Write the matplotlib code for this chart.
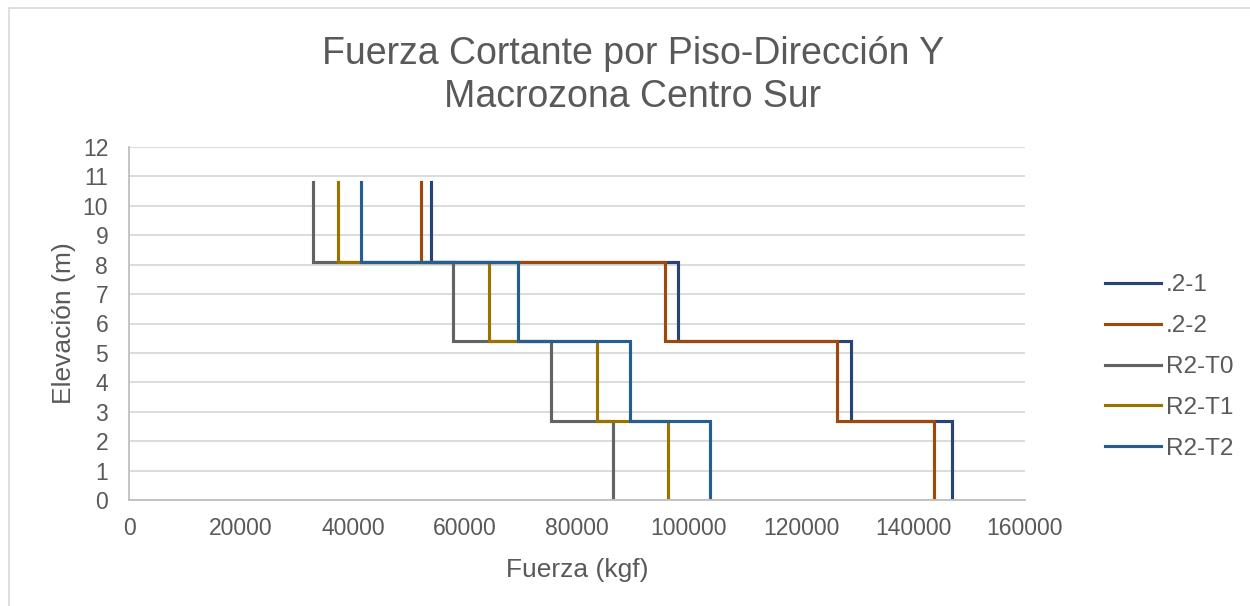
import numpy as np
import matplotlib

matplotlib.use("Agg")
import matplotlib.pyplot as plt
from matplotlib.patches import Rectangle

plt.rcParams["font.family"] = ["Liberation Sans", "DejaVu Sans"]

TEXT = "#595959"

# storey boundaries (m) and storey shear per series, storey 1 -> 4 (kgf)
levels = [0.0, 2.7, 5.4, 8.1, 10.8]
series_names = [".2-1", ".2-2", "R2-T0", "R2-T1", "R2-T2"]
shear_21 = [147000, 129000, 98000, 54000]
shear_22 = [143800, 126500, 95800, 52100]
shear_t0 = [86500, 75300, 57800, 32800]
shear_t1 = [96300, 83500, 64200, 37300]
shear_t2 = [103800, 89400, 69400, 41400]
colors = ["#264478", "#9E480E", "#636363", "#997300", "#255E91"]

x_ticks = [0, 20000, 40000, 60000, 80000, 100000, 120000, 140000, 160000]
y_ticks = list(range(0, 13))


def stair(shear):
    """Vertical run over each storey, horizontal jump at each floor."""
    xs = np.repeat(shear, 2)
    ys = np.array([[levels[i], levels[i + 1]] for i in range(len(shear))]).ravel()
    return xs, ys


fig = plt.figure(figsize=(12.5, 6.06), dpi=100)
ax = fig.add_axes([129 / 1250, 1 - 500 / 606, (1025 - 129) / 1250, (500 - 147) / 606])

for name, shear, c in zip(series_names,
                          [shear_21, shear_22, shear_t0, shear_t1, shear_t2],
                          colors):
    xs, ys = stair(shear)
    ax.plot(xs, ys, color=c, lw=2.25, label=name, solid_joinstyle="miter")

ax.set_xlim(0, 160000)
ax.set_ylim(0, 12)
ax.set_xticks(x_ticks)
ax.set_yticks(y_ticks)
ax.set_xticklabels([str(v) for v in x_ticks])
ax.tick_params(length=0, labelsize=16.5, labelcolor=TEXT)
ax.tick_params(axis="y", pad=15)
ax.tick_params(axis="x", pad=12)
ax.yaxis.grid(True, color="#D9D9D9", lw=1.3)
ax.set_axisbelow(True)
for side in ("top", "right"):
    ax.spines[side].set_visible(False)
for side in ("left", "bottom"):
    ax.spines[side].set_color("#BFBFBF")
    ax.spines[side].set_linewidth(1.3)

ax.set_xlabel("Fuerza (kgf)", fontsize=19, color=TEXT, labelpad=13)
ax.set_ylabel("Elevación (m)", fontsize=19, color=TEXT, labelpad=5)

fig.text(633 / 1250, 1 - 64 / 606, "Fuerza Cortante por Piso-Dirección Y",
         ha="center", va="baseline", fontsize=27, color=TEXT)
fig.text(633 / 1250, 1 - 107 / 606, "Macrozona Centro Sur",
         ha="center", va="baseline", fontsize=27, color=TEXT)

ax.legend(loc="center left", bbox_to_anchor=(1105 / 1250, 1 - 367 / 606),
          bbox_transform=fig.transFigure, frameon=False, fontsize=17.5,
          labelcolor=TEXT, handlelength=2.3, handletextpad=0.2,
          labelspacing=0.78, borderpad=0, borderaxespad=0)

# chart area outline
fig.patches.append(Rectangle((9 / 1250, -0.1), 1.2, 1 - 8 / 606 + 0.1,
                             transform=fig.transFigure, fill=False,
                             ec="#D9D9D9", lw=1.2))

fig.savefig("out.png", dpi=100)
